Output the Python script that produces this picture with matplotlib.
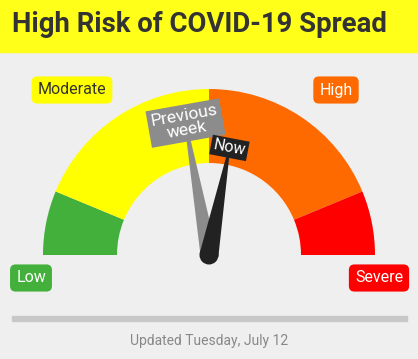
import numpy as np
import matplotlib
matplotlib.use("Agg")
import matplotlib.pyplot as plt
from matplotlib.patches import Wedge, Polygon, Circle, Rectangle

# ---- data ----
title = "High Risk of COVID-19 Spread"
levels = ["Low", "Moderate", "High", "Severe"]
level_bounds = [0, 12.5, 50, 87.5, 100]          # risk scale 0-100
level_colors = ["#42b03b", "#ffff00", "#ff6a00", "#ff0000"]
label_text_colors = ["white", "#333333", "white", "white"]
needle_names = ["Previous\nweek", "Now"]
needle_values = [44.4, 56.0]
needle_colors = ["#8c8c8c", "#222222"]
footer = "Updated Tuesday, July 12"

W, H = 418, 359
fig = plt.figure(figsize=(W / 100, H / 100), dpi=100)
fig.patch.set_facecolor("#efefef")
ax = fig.add_axes([0, 0, 1, 1])
ax.set_xlim(0, W)
ax.set_ylim(0, H)
ax.set_aspect("equal")
ax.axis("off")

font = "Roboto"
cx, cy = 209, H - 255
r_out, r_in = 166, 92


def ang(v):
    return 180 - v / 100 * 180


# title band
ax.add_patch(Rectangle((0, H - 52), W, 52, color="#ffff1a", zorder=1))
ax.text(12, H - 24, title, fontsize=19.8, fontweight="bold", color="#333333",
        ha="left", va="center", family=font, zorder=2)

# arcs
for i in range(4):
    a1, a2 = ang(level_bounds[i + 1]), ang(level_bounds[i])
    ax.add_patch(Wedge((cx, cy), r_out, a1, a2, width=r_out - r_in,
                       facecolor=level_colors[i], edgecolor="none", zorder=2))

# level labels
label_pos = [(31, H - 278), (72, H - 90), (336, H - 90), (379, H - 278)]
for i, name in enumerate(levels):
    x, y = label_pos[i]
    ax.text(x, y, name, fontsize=11.5, color=label_text_colors[i], family=font,
            ha="center", va="center", zorder=3,
            bbox=dict(boxstyle="round,pad=0.38,rounding_size=0.35",
                      fc=level_colors[i], ec="none"))

# needles
lengths = [117, 100]
base_w = [8.5, 9.5]
tip_w = [2, 1.5]
label_dist = [134, 109]
label_fs = [12.6, 11.5]
label_pad = [0.2, 0.15]
for i in range(2):
    th = np.deg2rad(ang(needle_values[i]))
    d = np.array([np.cos(th), np.sin(th)])
    n = np.array([-d[1], d[0]])
    p0 = np.array([cx, cy])
    tip = p0 + d * lengths[i]
    poly = [p0 + n * base_w[i], tip + n * tip_w[i], tip - n * tip_w[i], p0 - n * base_w[i]]
    z = 4 + i * 2
    ax.add_patch(Polygon(poly, closed=True, fc=needle_colors[i], ec="none", zorder=z))
    if i == 1:
        ax.add_patch(Circle((cx, cy), base_w[i], fc=needle_colors[i], ec="none", zorder=z))
    lp = p0 + d * label_dist[i]
    rot = np.rad2deg(th) - 90
    ax.text(lp[0], lp[1], needle_names[i], fontsize=label_fs[i], color="white", family=font,
            ha="center", va="center", rotation=rot, rotation_mode="anchor",
            linespacing=1.0, zorder=z + 1,
            bbox=dict(boxstyle=f"square,pad={label_pad[i]}", fc=needle_colors[i], ec="none"))

# divider and footer
ax.add_patch(Rectangle((12, H - 321), 395, 5, color="#c8c8c8", zorder=2))
ax.text(209, H - 341, footer, fontsize=10, color="#888888", family=font,
        ha="center", va="center", zorder=3)

fig.savefig("out.png", dpi=100, facecolor=fig.get_facecolor())
